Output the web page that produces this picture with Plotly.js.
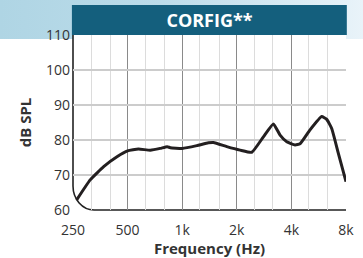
<!DOCTYPE html>
<html>
<head>
<meta charset="utf-8">
<script src="https://cdn.plot.ly/plotly-3.0.1.min.js"></script>
<style>
  html, body { margin: 0; padding: 0; background: #ffffff; }
  #chart {
    width: 363px; height: 258px;
    background: linear-gradient(to right, #afd5e4 0%, #bcdcea 45%, #e9f3f9 100%) no-repeat;
    background-size: 100% 39px;
  }
</style>
</head>
<body>
<div id="chart"></div>
<script>
// Frequency response (Hz) and level (dB SPL)
const freqHz = [262, 311, 369, 437, 500, 574, 666, 756, 826, 860, 1000, 1204, 1395, 1487,
                1762, 2085, 2420, 2803, 3182, 3465, 3770, 4190, 4463, 5068, 5877, 6263,
                6673, 7260, 8000];
const levelDb = [62.9, 68.6, 72.4, 75.2, 76.9, 77.4, 77.1, 77.6, 78.1, 77.8, 77.6, 78.4, 79.2, 79.3,
                 78.1, 77.1, 76.5, 80.9, 84.6, 81.4, 79.5, 78.6, 78.9, 82.9, 86.7, 85.9,
                 83.3, 76.2, 68.1];

const majorTicks = [250, 500, 1000, 2000, 4000, 8000];
const majorLabels = ['250', '500', '1k', '2k', '4k', '8k'];
const minorTicks = [315, 400, 630, 800, 1250, 1600, 2500, 3150, 5000, 6300];
const yTicks = [60, 70, 80, 90, 100, 110];
const chartTitle = 'CORFIG**';

const FONT = 'Open Sans, Noto Sans, sans-serif';

const trace = {
  x: freqHz, y: levelDb, type: 'scatter', mode: 'lines',
  line: { color: '#231f20', width: 3, shape: 'spline', smoothing: 0.4 },
  hoverinfo: 'skip', cliponaxis: false
};

// quarter-ellipse rounded corner at bottom-left (paper units)
const rh = 0.077, rv = 0.137;
const cornerCurve = `C0,${(rv*0.448).toFixed(4)} ${(rh*0.448).toFixed(4)},0 ${rh},0`;

const layout = {
  width: 363, height: 258,
  margin: { l: 73, r: 17, t: 35, b: 48 },
  paper_bgcolor: 'rgba(0,0,0,0)',
  plot_bgcolor: '#ffffff',
  showlegend: false,
  font: { family: FONT, color: '#333333', size: 14 },
  title: {
    text: chartTitle,
    font: { family: FONT, size: 18, color: '#ffffff', weight: 'bold' },
    x: 0.5, xref: 'paper', xanchor: 'center',
    y: 1 - 20.5 / 258, yref: 'container', yanchor: 'middle'
  },
  xaxis: {
    type: 'log',
    range: [Math.log10(250), Math.log10(8000)],
    tickmode: 'array', tickvals: majorTicks, ticktext: majorLabels,
    ticks: '', showline: false, zeroline: false,
    showgrid: true, gridcolor: '#8a8a8a', gridwidth: 1.3,
    tickfont: { family: FONT, size: 14, color: '#333333' },
    ticklabelstandoff: 10,
    minor: { tickmode: 'array', tickvals: minorTicks, showgrid: true, gridcolor: '#dcdcdc', gridwidth: 1, ticks: '' },
    title: { text: 'Frequency (Hz)', font: { family: FONT, size: 15, color: '#333333', weight: 'bold' }, standoff: 8 },
    fixedrange: true
  },
  yaxis: {
    range: [60, 110],
    tickmode: 'array', tickvals: yTicks,
    ticks: '', showline: false, zeroline: false,
    showgrid: true, gridcolor: '#cccccc', gridwidth: 1.2,
    tickfont: { family: FONT, size: 14, color: '#333333' },
    ticklabelstandoff: 2,
    title: { text: 'dB SPL', font: { family: FONT, size: 15, color: '#333333', weight: 'bold' }, standoff: 10 },
    fixedrange: true
  },
  shapes: [
    // title bar
    { type: 'rect', xref: 'paper', yref: 'paper', x0: -0.004, x1: 1.003, y0: 1, y1: 1 + 30 / 175,
      fillcolor: '#145f7d', line: { width: 0 }, layer: 'above' },
    // cover square corner outside rounded corner
    { type: 'path', xref: 'paper', yref: 'paper',
      path: `M-0.01,-0.01 L-0.01,${rv} L0,${rv} ${cornerCurve} L${rh},-0.01 Z`,
      fillcolor: '#ffffff', line: { width: 0 }, layer: 'between' },
    // left + bottom axis with rounded corner
    { type: 'path', xref: 'paper', yref: 'paper',
      path: `M0,1 L0,${rv} ${cornerCurve} L1,0`,
      line: { color: '#222222', width: 1.6 }, layer: 'between' }
  ]
};

Plotly.newPlot('chart', [trace], layout, { displayModeBar: false, staticPlot: true });
</script>
</body>
</html>
